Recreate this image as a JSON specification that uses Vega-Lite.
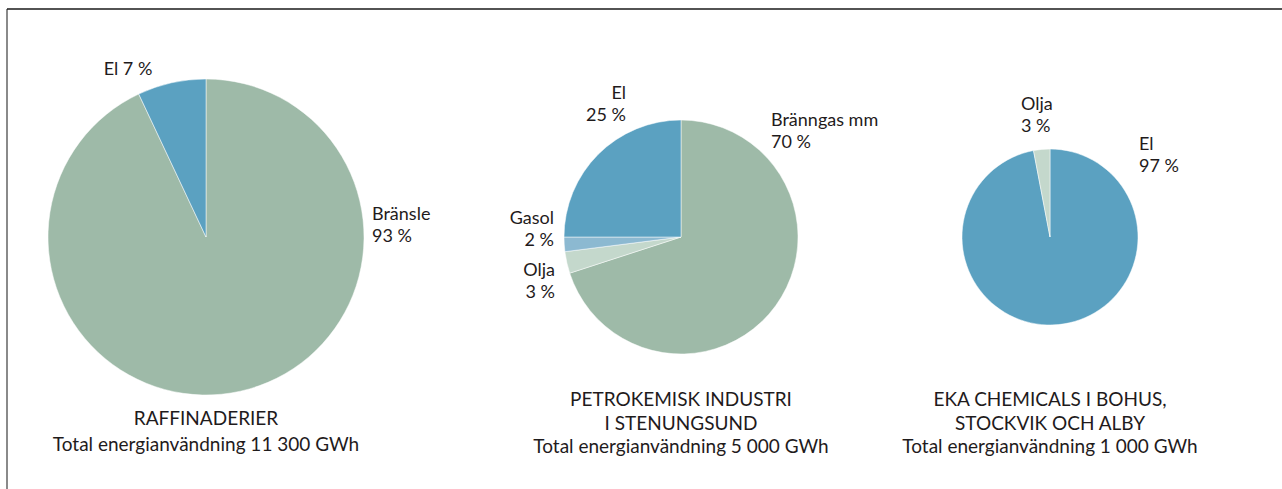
{
  "$schema": "https://vega.github.io/schema/vega-lite/v6.json",
  "padding": {"left": 6, "top": 8, "right": 0, "bottom": 0},
  "spacing": 0,
  "bounds": "flush",
  "background": "white",
  "config": {
    "view": {"stroke": null},
    "font": "Lato",
    "text": {"font": "Lato", "fontSize": 18, "color": "#1f1b1c", "lineBreak": "\n", "lineHeight": 22, "baseline": "middle"}
  },
  "datasets": {
    "raff": [
      {"cat": "Bränsle", "pct": 93, "ord": 1, "label": "Bränsle\n93 %"},
      {"cat": "El", "pct": 7, "ord": 2, "label": "El 7 %"}
    ],
    "petro": [
      {"cat": "Bränngas mm", "pct": 70, "ord": 1, "label": "Bränngas mm\n70 %"},
      {"cat": "Olja", "pct": 3, "ord": 2, "label": "Olja\n3 %"},
      {"cat": "Gasol", "pct": 2, "ord": 3, "label": "Gasol\n2 %"},
      {"cat": "El", "pct": 25, "ord": 4, "label": "El\n25 %"}
    ],
    "eka": [
      {"cat": "El", "pct": 97, "ord": 1, "label": "El\n97 %"},
      {"cat": "Olja", "pct": 3, "ord": 2, "label": "Olja\n3 %"}
    ],
    "titles": [
      {"panel": "raff", "title": "RAFFINADERIER\nTotal energianvändning 11 300 GWh"},
      {"panel": "petro", "title": "PETROKEMISK INDUSTRI\nI STENUNGSUND\nTotal energianvändning 5 000 GWh"},
      {"panel": "eka", "title": "EKA CHEMICALS I BOHUS,\nSTOCKVIK OCH ALBY\nTotal energianvändning 1 000 GWh"}
    ],
    "frame": [{"top": 1, "left": 0, "bottom": -0.06}]
  },
  "hconcat": [
    {
      "width": 398,
      "height": 456,
      "layer": [
        {
          "data": {"name": "frame"},
          "mark": {"type": "rule", "color": "#8a8a8a", "strokeWidth": 2},
          "encoding": {
            "x": {"field": "left", "type": "quantitative", "scale": {"domain": [0, 1]}, "axis": null},
            "y": {"field": "top", "type": "quantitative", "scale": {"domain": [0, 1]}, "axis": null},
            "y2": {"field": "bottom"}
          }
        },
        {
          "data": {"name": "frame"},
          "mark": {"type": "rule", "color": "#1a1a1a", "strokeWidth": 1.6},
          "encoding": {
            "y": {"field": "top", "type": "quantitative", "scale": {"domain": [0, 1]}, "axis": null}
          }
        },
        {
          "data": {"name": "raff"},
          "mark": {"type": "arc", "outerRadius": 158, "stroke": "white", "strokeWidth": 0.5},
          "encoding": {
            "theta": {"field": "pct", "type": "quantitative", "stack": true},
            "order": {"field": "ord", "type": "quantitative"},
            "color": {"field": "cat", "type": "nominal", "legend": null,
              "scale": {"domain": ["Bränsle", "Bränngas mm", "El", "Gasol", "Olja"], "range": ["#9ebaa8", "#9ebaa8", "#5ba1c1", "#8cb9d1", "#c4d8cc"]}}
          }
        },
        {
          "data": {"name": "raff"},
          "transform": [{"filter": "datum.cat === 'El'"}],
          "mark": {"type": "text", "align": "center", "dx": -78, "dy": -167},
          "encoding": {"text": {"field": "label"}}
        },
        {
          "data": {"name": "raff"},
          "transform": [{"filter": "datum.cat === 'Bränsle'"}],
          "mark": {"type": "text", "align": "left", "dx": 166, "dy": -22},
          "encoding": {"text": {"field": "label"}}
        },
        {
          "data": {"name": "titles"},
          "transform": [{"filter": "datum.panel === 'raff'"}],
          "mark": {"type": "text", "align": "center", "dy": 182, "fontSize": 19, "lineHeight": 26},
          "encoding": {"text": {"field": "title"}}
        }
      ]
    },
    {
      "width": 552,
      "height": 456,
      "layer": [
        {
          "data": {"name": "frame"},
          "mark": {"type": "rule", "color": "#1a1a1a", "strokeWidth": 1.6},
          "encoding": {
            "y": {"field": "top", "type": "quantitative", "scale": {"domain": [0, 1]}, "axis": null}
          }
        },
        {
          "data": {"name": "petro"},
          "mark": {"type": "arc", "outerRadius": 117, "stroke": "white", "strokeWidth": 0.5},
          "encoding": {
            "theta": {"field": "pct", "type": "quantitative", "stack": true},
            "order": {"field": "ord", "type": "quantitative"},
            "color": {"field": "cat", "type": "nominal", "legend": null,
              "scale": {"domain": ["Bränsle", "Bränngas mm", "El", "Gasol", "Olja"], "range": ["#9ebaa8", "#9ebaa8", "#5ba1c1", "#8cb9d1", "#c4d8cc"]}}
          }
        },
        {
          "data": {"name": "petro"},
          "transform": [{"filter": "datum.cat === 'El'"}],
          "mark": {"type": "text", "align": "right", "dx": -55, "dy": -143},
          "encoding": {"text": {"field": "label"}}
        },
        {
          "data": {"name": "petro"},
          "transform": [{"filter": "datum.cat === 'Bränngas mm'"}],
          "mark": {"type": "text", "align": "left", "dx": 90, "dy": -116},
          "encoding": {"text": {"field": "label"}}
        },
        {
          "data": {"name": "petro"},
          "transform": [{"filter": "datum.cat === 'Gasol'"}],
          "mark": {"type": "text", "align": "right", "dx": -127, "dy": -18},
          "encoding": {"text": {"field": "label"}}
        },
        {
          "data": {"name": "petro"},
          "transform": [{"filter": "datum.cat === 'Olja'"}],
          "mark": {"type": "text", "align": "right", "dx": -126, "dy": 34},
          "encoding": {"text": {"field": "label"}}
        },
        {
          "data": {"name": "titles"},
          "transform": [{"filter": "datum.panel === 'petro'"}],
          "mark": {"type": "text", "align": "center", "dy": 163, "fontSize": 19, "lineHeight": 23.5},
          "encoding": {"text": {"field": "title"}}
        }
      ]
    },
    {
      "width": 186,
      "height": 456,
      "layer": [
        {
          "data": {"name": "frame"},
          "mark": {"type": "rule", "color": "#1a1a1a", "strokeWidth": 1.6},
          "encoding": {
            "y": {"field": "top", "type": "quantitative", "scale": {"domain": [0, 1]}, "axis": null}
          }
        },
        {
          "data": {"name": "eka"},
          "mark": {"type": "arc", "outerRadius": 88, "stroke": "white", "strokeWidth": 0.5},
          "encoding": {
            "theta": {"field": "pct", "type": "quantitative", "stack": true},
            "order": {"field": "ord", "type": "quantitative"},
            "color": {"field": "cat", "type": "nominal", "legend": null,
              "scale": {"domain": ["Bränsle", "Bränngas mm", "El", "Gasol", "Olja"], "range": ["#9ebaa8", "#9ebaa8", "#5ba1c1", "#8cb9d1", "#c4d8cc"]}}
          }
        },
        {
          "data": {"name": "eka"},
          "transform": [{"filter": "datum.cat === 'Olja'"}],
          "mark": {"type": "text", "align": "left", "dx": -29, "dy": -132},
          "encoding": {"text": {"field": "label"}}
        },
        {
          "data": {"name": "eka"},
          "transform": [{"filter": "datum.cat === 'El'"}],
          "mark": {"type": "text", "align": "left", "dx": 89, "dy": -92},
          "encoding": {"text": {"field": "label"}}
        },
        {
          "data": {"name": "titles"},
          "transform": [{"filter": "datum.panel === 'eka'"}],
          "mark": {"type": "text", "align": "center", "dy": 163, "fontSize": 19, "lineHeight": 23.5},
          "encoding": {"text": {"field": "title"}}
        }
      ]
    },
    {
      "width": 139,
      "height": 456,
      "data": {"name": "frame"},
      "mark": {"type": "rule", "color": "#1a1a1a", "strokeWidth": 1.6},
      "encoding": {
        "y": {"field": "top", "type": "quantitative", "scale": {"domain": [0, 1]}, "axis": null}
      }
    }
  ]
}
